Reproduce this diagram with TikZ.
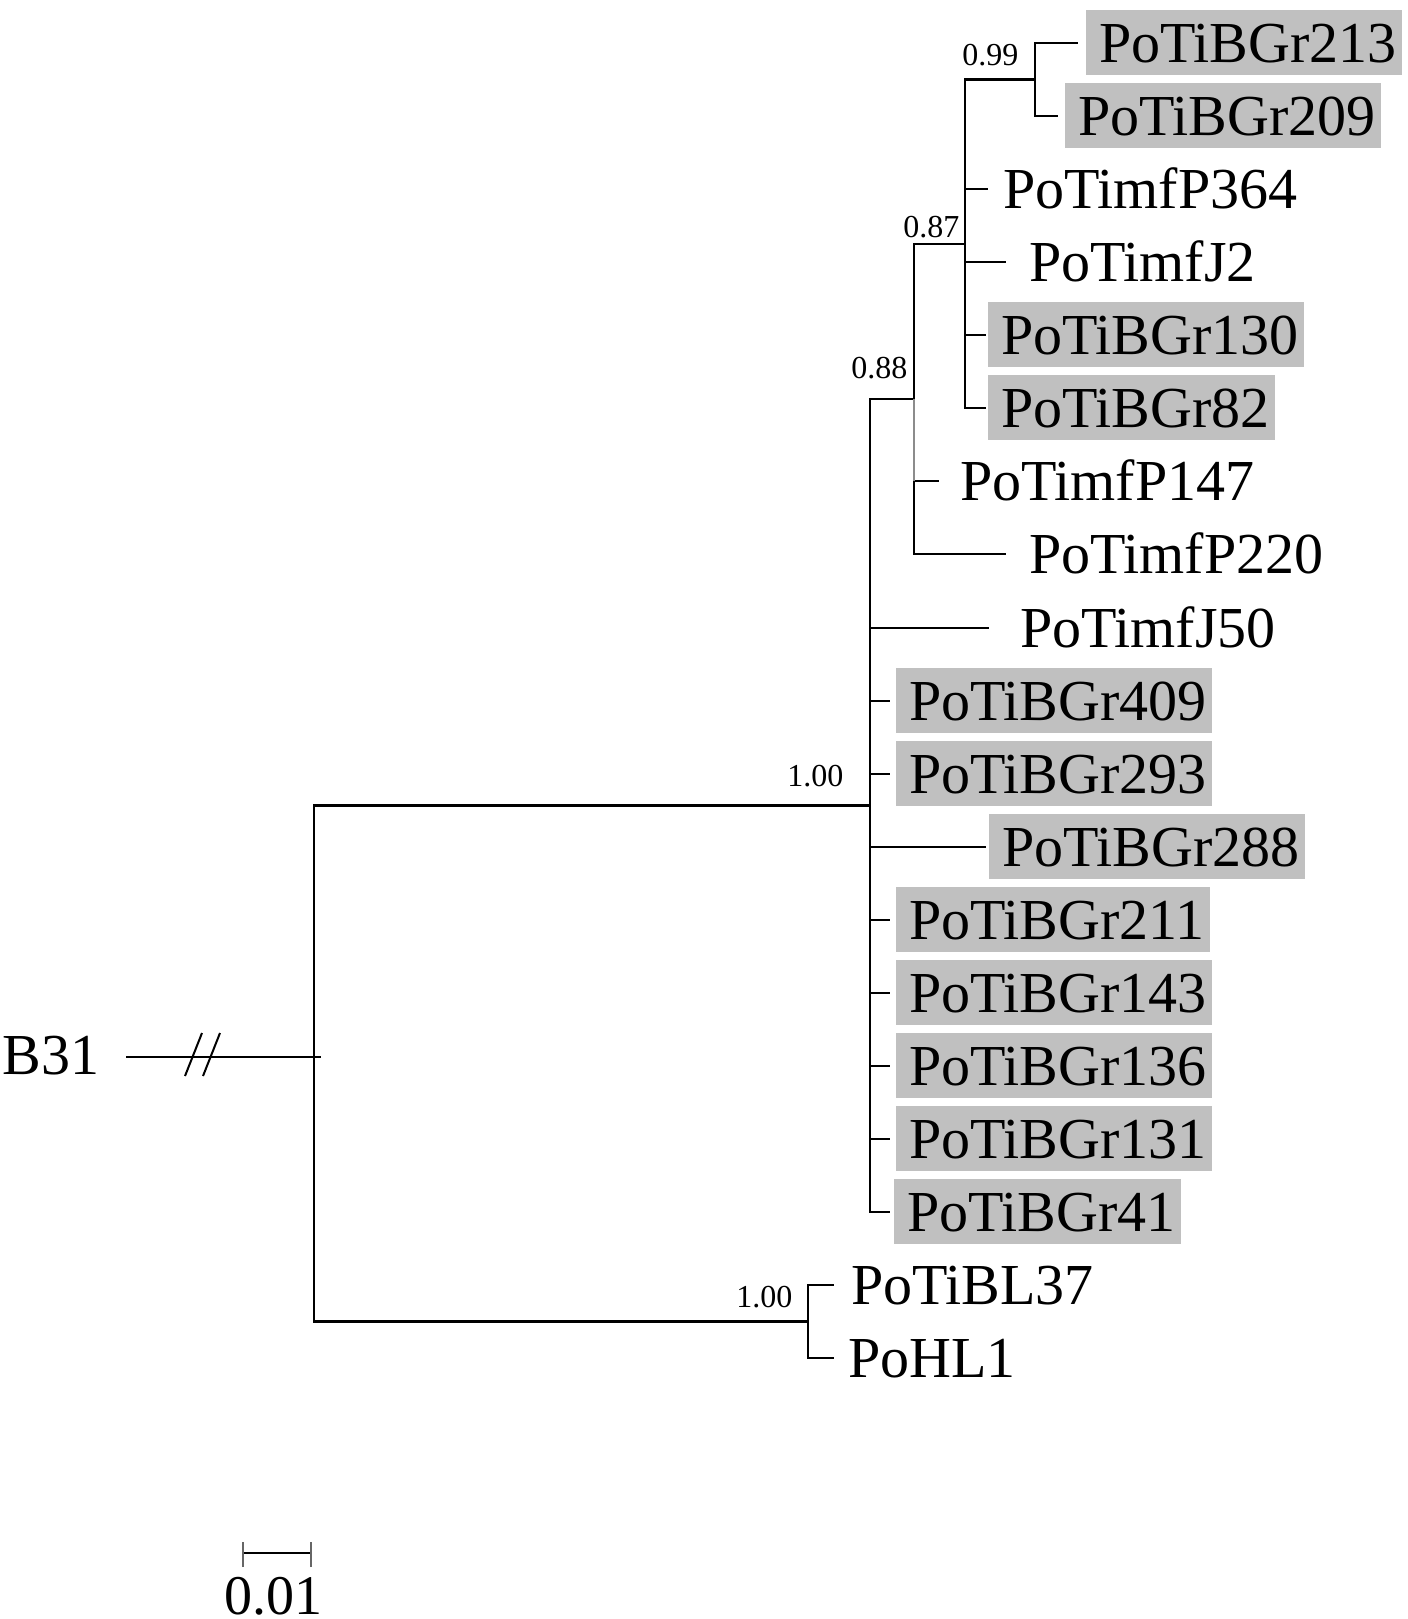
\documentclass[tikz,border=0pt]{standalone}
\usepackage{fontspec}
\setmainfont{Liberation Serif}
\definecolor{boxgray}{RGB}{192,192,192}
\newcommand{\labfont}{\fontsize{29}{30}\selectfont}
\newcommand{\bsfont}{\fontsize{16}{17}\selectfont}
\tikzset{
  br/.style={line width=1.3pt},
  lab/.style={anchor=base west, inner sep=0pt, outer sep=0pt, font=\labfont, text height=26pt, text depth=6.5pt},
  boxed/.style={lab, fill=boxgray},
  bs/.style={anchor=base west, inner sep=0pt, font=\bsfont},
}
\begin{document}
\begin{tikzpicture}[x=0.5pt,y=-0.5pt]
\useasboundingbox (0,0) rectangle (1408,1619);

% internal nodes
\coordinate (root) at (314,1057);
\coordinate (ntop) at (870,805.5);
\coordinate (nbot) at (808,1321.5);
\coordinate (n88) at (914,399);
\coordinate (n87) at (965,244);
\coordinate (n99) at (1035,79.5);

% tips
\coordinate (t1) at (1078,43);
\coordinate (t2) at (1058,116);
\coordinate (t3) at (988,189);
\coordinate (t4) at (1006,262);
\coordinate (t5) at (986,335);
\coordinate (t6) at (986,408);
\coordinate (t7) at (939,481);
\coordinate (t8) at (1006,554);
\coordinate (t9) at (989,628);
\coordinate (t10) at (890,701);
\coordinate (t11) at (890,774);
\coordinate (t12) at (986,847);
\coordinate (t13) at (890,920);
\coordinate (t14) at (890,993);
\coordinate (t15) at (890,1066);
\coordinate (t16) at (890,1139);
\coordinate (t17) at (890,1212);
\coordinate (t18) at (834,1285);
\coordinate (t19) at (834,1358);

% branches
\draw[br] (root) |- (ntop);
\draw[br] (root) |- (nbot);
\draw[br] (ntop) |- (n88);
\foreach \t in {t9,t10,t11,t12,t13,t14,t15,t16,t17} \draw[br] (ntop) |- (\t);
\draw[br] (n88) |- (n87);
\draw[br] (n88) |- (t7);
\draw[br] (n88) |- (t8);
\draw[br, black!45] (n88) -- (n88 |- t7);
\draw[br] (n87) |- (n99);
\foreach \t in {t3,t4,t5,t6} \draw[br] (n87) |- (\t);
\draw[br] (n99) |- (t1);
\draw[br] (n99) |- (t2);
\draw[br] (nbot) |- (t18);
\draw[br] (nbot) |- (t19);

% outgroup
\node[lab] (b31) at (3,1074) {B31};
\coordinate (b31a) at (126,1057);
\coordinate (rootx) at (321,1057);
\draw[br] (b31a) -- (rootx);
\draw[line width=1pt] (185,1076) -- (202,1033);
\draw[line width=1pt] (203,1076) -- (220,1033);

% labels
\node[boxed] (l1) at (1086,62) {\kern6.5pt PoTiBGr213\kern2.5pt};
\node[boxed] (l2) at (1065,135) {\kern6.5pt PoTiBGr209\kern2.5pt};
\node[lab] (l3) at (1003,208) {PoTimfP364};
\node[lab] (l4) at (1029,281) {PoTimfJ2};
\node[boxed] (l5) at (988,354) {\kern6.5pt PoTiBGr130\kern2.5pt};
\node[boxed] (l6) at (988,427) {\kern6.5pt PoTiBGr82\kern2.5pt};
\node[lab] (l7) at (960,500) {PoTimfP147};
\node[lab] (l8) at (1029,573) {PoTimfP220};
\node[lab] (l9) at (1020,647) {PoTimfJ50};
\node[boxed] (l10) at (896,720) {\kern6.5pt PoTiBGr409\kern2.5pt};
\node[boxed] (l11) at (896,793) {\kern6.5pt PoTiBGr293\kern2.5pt};
\node[boxed] (l12) at (989,866) {\kern6.5pt PoTiBGr288\kern2.5pt};
\node[boxed] (l13) at (896,939) {\kern6.5pt PoTiBGr211\kern2.5pt};
\node[boxed] (l14) at (896,1012) {\kern6.5pt PoTiBGr143\kern2.5pt};
\node[boxed] (l15) at (896,1085) {\kern6.5pt PoTiBGr136\kern2.5pt};
\node[boxed] (l16) at (896,1158) {\kern6.5pt PoTiBGr131\kern2.5pt};
\node[boxed] (l17) at (894,1231) {\kern6.5pt PoTiBGr41\kern2.5pt};
\node[lab] (l18) at (851,1304) {PoTiBL37};
\node[lab] (l19) at (848,1377) {PoHL1};

% support values
\node[bs] (s99) at (962,65) {0.99};
\node[bs] (s87) at (903,237) {0.87};
\node[bs] (s88) at (851,378) {0.88};
\node[bs] (s100a) at (787,786) {1.00};
\node[bs] (s100b) at (736,1307) {1.00};

% scale bar
\coordinate (sbl) at (243,1553);
\coordinate (sbr) at (311,1553);
\draw[br] (sbl) -- (sbr);
\draw[br, black!60] ([yshift=-7pt]sbl) -- ([yshift=5.5pt]sbl);
\draw[br, black!60] ([yshift=-7pt]sbr) -- ([yshift=5.5pt]sbr);
\node[anchor=base, inner sep=0pt, font=\fontsize{28}{29}\selectfont] (sbt) at (273,1614) {0.01};
\end{tikzpicture}
\end{document}
